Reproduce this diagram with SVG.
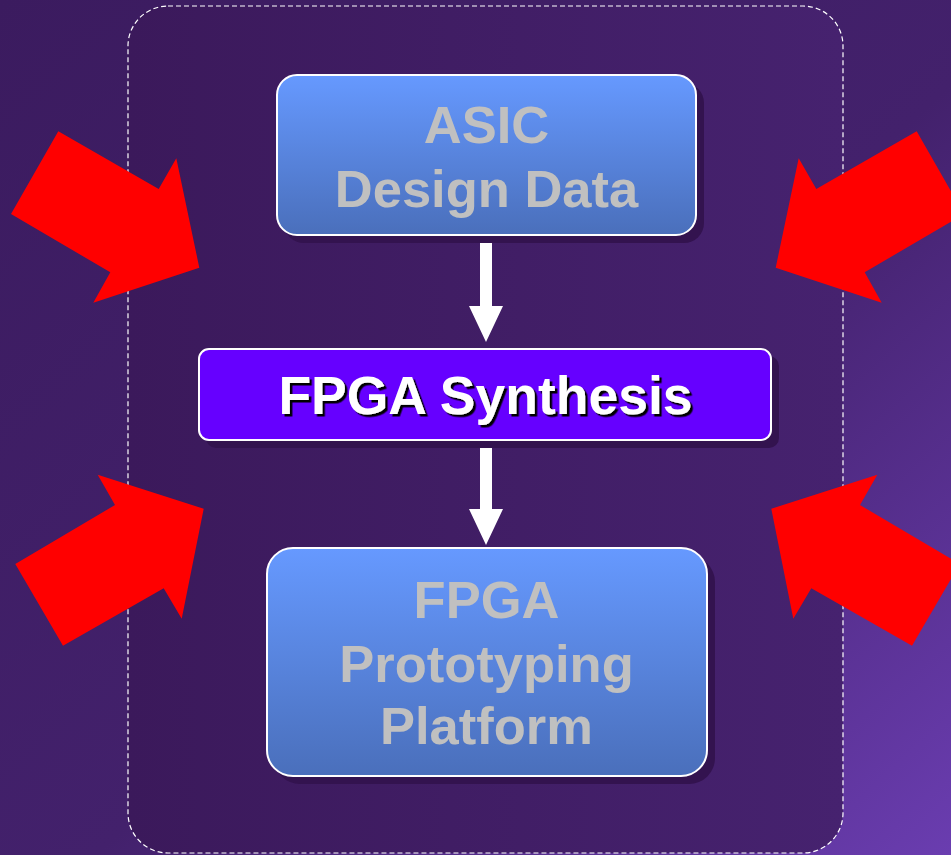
<svg xmlns="http://www.w3.org/2000/svg" width="951" height="855" viewBox="0 0 951 855">
<defs>
<linearGradient id="bg" x1="0" y1="0" x2="1" y2="1">
<stop offset="0" stop-color="#3b1b5f"/>
<stop offset="0.55" stop-color="#43216c"/>
<stop offset="1" stop-color="#6a3db0"/>
</linearGradient>
<linearGradient id="panel" x1="0" y1="0" x2="1" y2="0">
<stop offset="0" stop-color="#3b195b"/>
<stop offset="1" stop-color="#46226f"/>
</linearGradient>
<linearGradient id="blue" x1="0" y1="0" x2="0" y2="1">
<stop offset="0" stop-color="#6699ff"/>
<stop offset="1" stop-color="#4a6fbb"/>
</linearGradient>
<filter id="ts" x="-5%" y="-20%" width="110%" height="140%">
<feDropShadow dx="2.5" dy="2.5" stdDeviation="0" flood-color="#000000" flood-opacity="1"/>
</filter>
<style>
.panel{fill:url(#panel);stroke:#ffffff;stroke-width:1.2;stroke-dasharray:5 3}
.shadow{fill:#33134f}
.box{fill:url(#blue);stroke:#ffffff;stroke-width:2}
.mid{fill:#6600ff;stroke:#ffffff;stroke-width:2}
.lbl{font-family:"Liberation Sans",Arial,sans-serif;font-weight:bold;font-size:52.5px;text-anchor:middle;fill:#c0c0c0}
.white{fill:#ffffff;font-size:53.5px;filter:url(#ts)}
.red{fill:#ff0000}
.conn{fill:#ffffff}
</style>
</defs>
<rect width="951" height="855" fill="url(#bg)"/>
<rect class="panel" x="128" y="6" width="715" height="847" rx="40"/>

<g id="connectors">
<polygon class="conn" points="480,243 492,243 492,306 503,306 486,342 469,306 480,306"/>
<polygon class="conn" points="480,442 492,442 492,509 503,509 486,545 469,509 480,509"/>
</g>

<g id="asic">
<rect class="shadow" x="284" y="83" width="420" height="160" rx="20"/>
<rect class="box" x="277" y="75" width="419" height="160" rx="20"/>
<text class="lbl" x="486.5" y="143">ASIC</text>
<text class="lbl" x="486.5" y="207">Design Data</text>
</g>

<g id="synthesis">
<rect class="shadow" x="206" y="356" width="573" height="92" rx="10"/>
<rect class="mid" x="199" y="349" width="572" height="91" rx="10"/>
<text class="lbl white" x="485.5" y="414">FPGA Synthesis</text>
</g>

<g id="platform">
<rect class="shadow" x="274" y="556" width="441" height="228" rx="26"/>
<rect class="box" x="267" y="548" width="440" height="228" rx="26"/>
<text class="lbl" x="486.5" y="618">FPGA</text>
<text class="lbl" x="486.5" y="682">Prototyping</text>
<text class="lbl" x="486.5" y="744">Platform</text>
</g>

<g id="arrow-tl"><polygon class="red" points="58.3,131.3 158.7,189 176.3,158.3 199.3,267.7 93.3,302.7 110.3,272.3 11,214"/></g>
<g id="arrow-tr"><polygon class="red" points="916.7,131.3 816.3,189 798.7,158.3 775.7,267.7 881.7,302.7 864.7,272.3 964,214"/></g>
<g id="arrow-bl"><polygon class="red" points="97.7,474.7 115,505 15.3,564 63,645.7 163.7,588.3 181.7,618.7 203.7,508.7"/></g>
<g id="arrow-br"><polygon class="red" points="877.3,474.7 860,505 959.7,564 912,645.7 811.3,588.3 793.3,618.7 771.3,508.7"/></g>
</svg>
